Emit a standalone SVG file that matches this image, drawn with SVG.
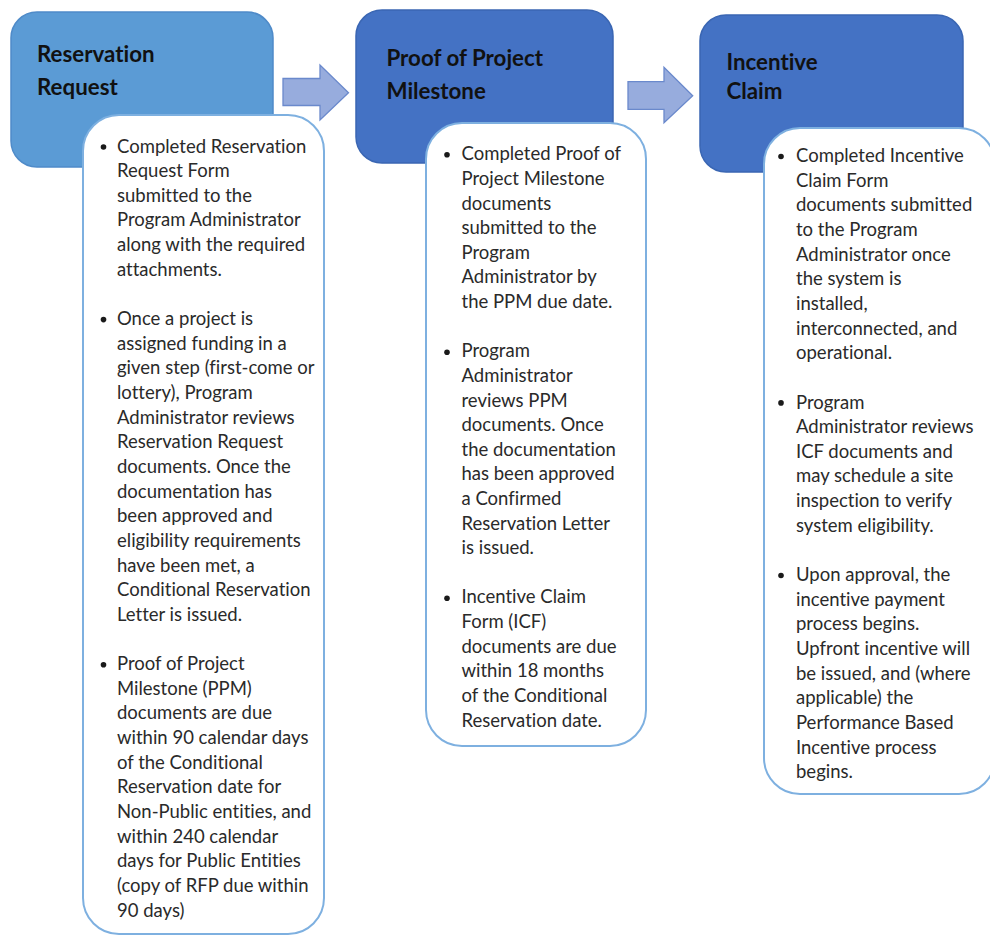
<svg xmlns="http://www.w3.org/2000/svg" width="990" height="937" viewBox="0 0 990 937">
<defs>
<style>
.hdr1{fill:#5B9BD5;stroke:#4F8BC9;stroke-width:1.5}
.hdr2{fill:#4472C4;stroke:#3A66B3;stroke-width:1.5}
.box{fill:#ffffff;stroke:#7EB0E0;stroke-width:2}
.arrow{fill:#97ACDD;stroke:#6A89CC;stroke-width:1.3}
.title{font-family:Lato,"Liberation Sans",sans-serif;font-weight:bold;font-size:22.3px;fill:#111111;font-variant-ligatures:none}
.body{font-family:Lato,"Liberation Sans",sans-serif;font-size:18.5px;fill:#2a2a2a;font-variant-ligatures:none}
.dot{fill:#1a1a1a}
</style>
</defs>
<g id="connectors">
<polygon class="arrow" points="283,78.5 320,78.5 320,65 348.5,92.7 320,120 320,105.5 283,105.5"/>
<polygon class="arrow" points="628,81.7 664,81.7 664,67.3 692.7,95.7 664,122.7 664,109.3 628,109.3"/>
</g>
<g id="node-reservation">
<rect class="hdr1" x="11" y="12" width="262" height="155" rx="26"/>
<text class="title"><tspan x="37" y="61.5">Reservation</tspan><tspan x="37" y="94.5">Request</tspan></text>
<rect class="box" x="83" y="115" width="241" height="819" rx="36"/>
<circle class="dot" cx="103.5" cy="147" r="2.8"/>
<circle class="dot" cx="103.5" cy="319.6" r="2.8"/>
<circle class="dot" cx="103.5" cy="664.7" r="2.8"/>
<text class="body">
<tspan x="117" y="152.5">Completed Reservation</tspan>
<tspan x="117" dy="24.65">Request Form</tspan>
<tspan x="117" dy="24.65">submitted to the</tspan>
<tspan x="117" dy="24.65">Program Administrator</tspan>
<tspan x="117" dy="24.65">along with the required</tspan>
<tspan x="117" dy="24.65">attachments.</tspan>
<tspan x="117" dy="49.3">Once a project is</tspan>
<tspan x="117" dy="24.65">assigned funding in a</tspan>
<tspan x="117" dy="24.65">given step (first-come or</tspan>
<tspan x="117" dy="24.65">lottery), Program</tspan>
<tspan x="117" dy="24.65">Administrator reviews</tspan>
<tspan x="117" dy="24.65">Reservation Request</tspan>
<tspan x="117" dy="24.65">documents. Once the</tspan>
<tspan x="117" dy="24.65">documentation has</tspan>
<tspan x="117" dy="24.65">been approved and</tspan>
<tspan x="117" dy="24.65">eligibility requirements</tspan>
<tspan x="117" dy="24.65">have been met, a</tspan>
<tspan x="117" dy="24.65">Conditional Reservation</tspan>
<tspan x="117" dy="24.65">Letter is issued.</tspan>
<tspan x="117" dy="49.3">Proof of Project</tspan>
<tspan x="117" dy="24.65">Milestone (PPM)</tspan>
<tspan x="117" dy="24.65">documents are due</tspan>
<tspan x="117" dy="24.65">within 90 calendar days</tspan>
<tspan x="117" dy="24.65">of the Conditional</tspan>
<tspan x="117" dy="24.65">Reservation date for</tspan>
<tspan x="117" dy="24.65">Non-Public entities, and</tspan>
<tspan x="117" dy="24.65">within 240 calendar</tspan>
<tspan x="117" dy="24.65">days for Public Entities</tspan>
<tspan x="117" dy="24.65">(copy of RFP due within</tspan>
<tspan x="117" dy="24.65">90 days)</tspan>
</text>
</g>
<g id="node-milestone">
<rect class="hdr2" x="356" y="10" width="257" height="153" rx="26"/>
<text class="title"><tspan x="386.5" y="66">Proof of Project</tspan><tspan x="386.5" y="99">Milestone</tspan></text>
<rect class="box" x="426" y="123" width="220" height="623" rx="36"/>
<circle class="dot" cx="447" cy="154.8" r="2.8"/>
<circle class="dot" cx="447" cy="352.2" r="2.8"/>
<circle class="dot" cx="447" cy="598.2" r="2.8"/>
<text class="body">
<tspan x="461.5" y="160.3">Completed Proof of</tspan>
<tspan x="461.5" dy="24.62">Project Milestone</tspan>
<tspan x="461.5" dy="24.62">documents</tspan>
<tspan x="461.5" dy="24.62">submitted to the</tspan>
<tspan x="461.5" dy="24.62">Program</tspan>
<tspan x="461.5" dy="24.62">Administrator by</tspan>
<tspan x="461.5" dy="24.62">the PPM due date.</tspan>
<tspan x="461.5" dy="49.24">Program</tspan>
<tspan x="461.5" dy="24.62">Administrator</tspan>
<tspan x="461.5" dy="24.62">reviews PPM</tspan>
<tspan x="461.5" dy="24.62">documents. Once</tspan>
<tspan x="461.5" dy="24.62">the documentation</tspan>
<tspan x="461.5" dy="24.62">has been approved</tspan>
<tspan x="461.5" dy="24.62">a Confirmed</tspan>
<tspan x="461.5" dy="24.62">Reservation Letter</tspan>
<tspan x="461.5" dy="24.62">is issued.</tspan>
<tspan x="461.5" dy="49.24">Incentive Claim</tspan>
<tspan x="461.5" dy="24.62">Form (ICF)</tspan>
<tspan x="461.5" dy="24.62">documents are due</tspan>
<tspan x="461.5" dy="24.62">within 18 months</tspan>
<tspan x="461.5" dy="24.62">of the Conditional</tspan>
<tspan x="461.5" dy="24.62">Reservation date.</tspan>
</text>
</g>
<g id="node-incentive">
<rect class="hdr2" x="700" y="15" width="263" height="157" rx="26"/>
<text class="title"><tspan x="726.5" y="70">Incentive</tspan><tspan x="726.5" y="99">Claim</tspan></text>
<rect class="box" x="764" y="128" width="231" height="666" rx="36"/>
<circle class="dot" cx="781" cy="156.5" r="2.8"/>
<circle class="dot" cx="781" cy="402.9" r="2.8"/>
<circle class="dot" cx="781" cy="575.5" r="2.8"/>
<text class="body">
<tspan x="796" y="162">Completed Incentive</tspan>
<tspan x="796" dy="24.65">Claim Form</tspan>
<tspan x="796" dy="24.65">documents submitted</tspan>
<tspan x="796" dy="24.65">to the Program</tspan>
<tspan x="796" dy="24.65">Administrator once</tspan>
<tspan x="796" dy="24.65">the system is</tspan>
<tspan x="796" dy="24.65">installed,</tspan>
<tspan x="796" dy="24.65">interconnected, and</tspan>
<tspan x="796" dy="24.65">operational.</tspan>
<tspan x="796" dy="49.3">Program</tspan>
<tspan x="796" dy="24.65">Administrator reviews</tspan>
<tspan x="796" dy="24.65">ICF documents and</tspan>
<tspan x="796" dy="24.65">may schedule a site</tspan>
<tspan x="796" dy="24.65">inspection to verify</tspan>
<tspan x="796" dy="24.65">system eligibility.</tspan>
<tspan x="796" dy="49.3">Upon approval, the</tspan>
<tspan x="796" dy="24.65">incentive payment</tspan>
<tspan x="796" dy="24.65">process begins.</tspan>
<tspan x="796" dy="24.65">Upfront incentive will</tspan>
<tspan x="796" dy="24.65">be issued, and (where</tspan>
<tspan x="796" dy="24.65">applicable) the</tspan>
<tspan x="796" dy="24.65">Performance Based</tspan>
<tspan x="796" dy="24.65">Incentive process</tspan>
<tspan x="796" dy="24.65">begins.</tspan>
</text>
</g>
</svg>
